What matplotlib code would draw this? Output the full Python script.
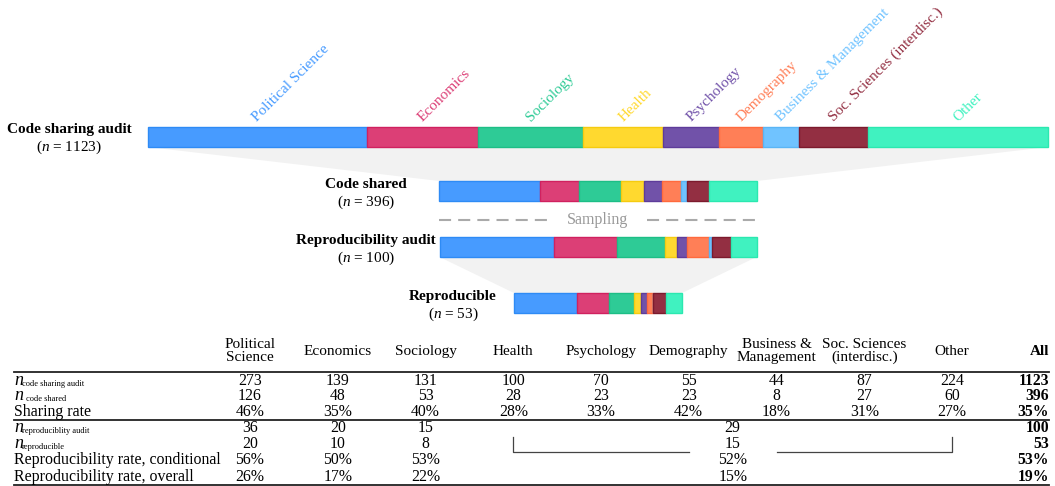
import matplotlib
matplotlib.use("Agg")
import matplotlib.pyplot as plt
import numpy as np

plt.rcParams['font.family'] = ['Liberation Serif', 'DejaVu Serif']
plt.rcParams['mathtext.fontset'] = 'custom'
plt.rcParams['mathtext.rm'] = 'Liberation Serif'
plt.rcParams['mathtext.it'] = 'Liberation Serif:italic'

# --- data ---
fields = ["Political Science", "Economics", "Sociology", "Health", "Psychology",
          "Demography", "Business & Management", "Soc. Sciences (interdisc.)", "Other"]
headers = ["Political\nScience", "Economics", "Sociology", "Health", "Psychology",
           "Demography", "Business &\nManagement", "Soc. Sciences\n(interdisc.)", "Other"]
colors = ["#479BFF", "#DC3F76", "#2ECB96", "#FFD92F", "#7152A9",
          "#FF7F57", "#70C3FF", "#932F42", "#40F2C0"]
edges = ["#2E8BF5", "#D0215F", "#1DBE86", "#F5CB10", "#5E3C9A",
         "#FF6A3D", "#5AB5F5", "#7C1A2D", "#2BE8B0"]

n_audit = [273, 139, 131, 100, 70, 55, 44, 87, 224]
n_shared = [126, 48, 53, 28, 23, 23, 8, 27, 60]
sharing_rate = [46, 35, 40, 28, 33, 42, 18, 31, 27]
n_repro_audit = [36, 20, 15, 4, 3, 7, 1, 6, 8]
n_repro = [20, 10, 8, 2, 2, 2, 0, 4, 5]

# table values for the reproducibility part (first three fields, then pooled rest)
t_repro_audit = [36, 20, 15, 29]
t_repro = [20, 10, 8, 15]
t_cond = [56, 50, 53, 52]
t_overall = [26, 17, 22, 15]
totals = ["1123", "396", "35%", "100", "53", "53%", "19%"]

stage_names = ["Code sharing audit", "Code shared", "Reproducibility audit", "Reproducible"]
stage_n = [1123, 396, 100, 53]
stage_counts = [n_audit, n_shared, n_repro_audit, n_repro]

# --- layout (pixels) ---
W, H = 1055, 486
center = 598
scales = [900 / 1123, 900 / 1123, 317 / 100, 317 / 100]
bar_y = [137, 191, 247, 303]
bar_h = 20
label_xy = [(69, 129), (366, 184), (366, 240), (453, 296)]

fig = plt.figure(figsize=(W / 100, H / 100), dpi=100)
ax = fig.add_axes([0, 0, 1, 1])
ax.set_xlim(0, W)
ax.set_ylim(H, 0)
ax.axis("off")

extents = []
for s, counts in enumerate(stage_counts):
    widths = np.array(counts) * scales[s]
    start = center - widths.sum() / 2
    lefts = start + np.concatenate([[0], np.cumsum(widths)[:-1]])
    ax.barh([bar_y[s]] * len(counts), widths, left=lefts, height=bar_h,
            color=colors, edgecolor=edges, linewidth=1, zorder=3)
    extents.append((start, start + widths.sum()))
    if s == 0:
        for i, f in enumerate(fields):
            ax.text(lefts[i] + widths[i] / 2 + 2, bar_y[s] - bar_h / 2 - 3, f,
                    rotation=45, rotation_mode="anchor", ha="left", va="bottom",
                    color=colors[i], fontsize=11)
    lx, ly = label_xy[s]
    ax.text(lx, ly, stage_names[s], ha="center", va="center", fontsize=11,
            fontweight="bold")
    ax.text(lx, ly + 18, r"($n$ = %d)" % stage_n[s], ha="center", va="center",
            fontsize=11)

# funnel shading
for a, b in [(0, 1), (2, 3)]:
    ya = bar_y[a] + bar_h / 2
    yb = bar_y[b] - bar_h / 2
    ax.fill([extents[a][0], extents[a][1], extents[b][1], extents[b][0]],
            [ya, ya, yb, yb], color="#F2F2F2", lw=0, zorder=1)

# sampling divider
ys = 220
ax.plot([extents[1][0], 553], [ys, ys], color="#AAAAAA", lw=1.5, ls=(0, (5.8, 3.4)))
ax.plot([647, extents[1][1]], [ys, ys], color="#AAAAAA", lw=1.5, ls=(0, (5.8, 3.4)))
ax.text(center, ys, "Sampling", ha="center", va="center", color="#999999", fontsize=11.5)

# --- table ---
col_x = [250 + 87.75 * k for k in range(9)]
all_x = 1049
row_y = [381, 396, 412, 428, 444, 460, 477]
lx = 14
fs = 11.3

for x, h in zip(col_x, headers):
    ax.text(x, 351, h, ha="center", va="center", fontsize=11, linespacing=0.95)
ax.text(all_x, 351, "All", ha="right", va="center", fontsize=11, fontweight="bold")

sub_labels = [("code sharing audit", 22), ("code shared", 26),
              None, ("reproduciblity audit", 22), ("reproducible", 22), None, None]
plain_labels = [None, None, "Sharing rate", None, None,
                "Reproducibility rate, conditional", "Reproducibility rate, overall"]
for y, sub, plain in zip(row_y, sub_labels, plain_labels):
    if sub:
        ax.text(lx, y - 1, "n", style="italic", ha="left", va="center", fontsize=13)
        ax.text(sub[1], y + 3, sub[0], ha="left", va="center", fontsize=6)
    else:
        ax.text(lx, y, plain, ha="left", va="center", fontsize=11.4)

top_rows = [n_audit, n_shared, ["%d%%" % v for v in sharing_rate]]
for r, vals in enumerate(top_rows):
    for x, v in zip(col_x, vals):
        ax.text(x, row_y[r], str(v), ha="center", va="center", fontsize=fs)

merged_x = (col_x[3] + col_x[8]) / 2
bottom_rows = [t_repro_audit, t_repro, ["%d%%" % v for v in t_cond],
               ["%d%%" % v for v in t_overall]]
for r, vals in enumerate(bottom_rows):
    xs = col_x[:3] + [merged_x]
    for x, v in zip(xs, vals):
        ax.text(x, row_y[r + 3], str(v), ha="center", va="center", fontsize=fs)

for y, t in zip(row_y, totals):
    ax.text(all_x, y, t, ha="right", va="center", fontsize=fs, fontweight="bold")

for y in [372, 420, 485]:
    ax.plot([lx, all_x], [y, y], color="#222222", lw=1.3)

# bracket for pooled fields
bc = "#444444"
ax.plot([col_x[3], col_x[3], merged_x - 44], [437, 452, 452], color=bc, lw=0.9)
ax.plot([merged_x + 44, col_x[8], col_x[8]], [452, 452, 437], color=bc, lw=0.9)

fig.savefig("out.png", dpi=100)
